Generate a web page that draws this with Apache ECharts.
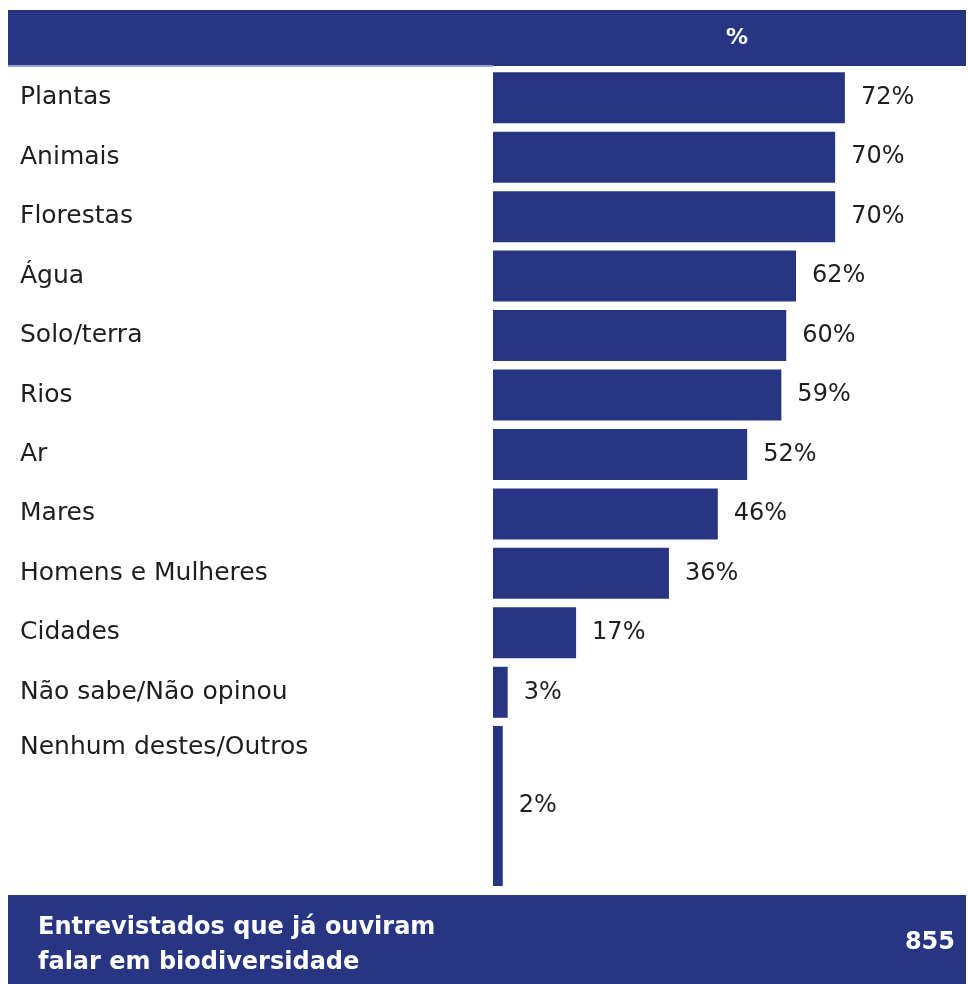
<!DOCTYPE html>
<html>
<head>
<meta charset="utf-8">
<script src="https://cdn.jsdelivr.net/npm/echarts@6/dist/echarts.min.js"></script>
<style>
  html, body { margin: 0; padding: 0; background: #ffffff; }
  #chart { width: 968px; height: 984px; }
</style>
</head>
<body>
<div id="chart"></div>
<script>
// Dados do gráfico
const categories = ['Plantas', 'Animais', 'Florestas', 'Água', 'Solo/terra', 'Rios', 'Ar',
    'Mares', 'Homens e Mulheres', 'Cidades', 'Não sabe/Não opinou'];
const values = [72, 70, 70, 62, 60, 59, 52, 46, 36, 17, 3];
const lastCategory = ['Nenhum destes/Outros'];
const lastValue = [2];
const headerLabel = '%';
const baseLabel = 'Entrevistados que já ouviram\nfalar em biodiversidade';
const baseValue = '855';

const navy = '#283583';
const textColor = '#1e1e1e';
const labelFont = 'DejaVu Sans';

const chart = echarts.init(document.getElementById('chart'));

// Rótulo de valor à direita das barras
const valueLabel = {
    show: true,
    position: 'right',
    distance: 16,
    formatter: '{c}%',
    fontFamily: labelFont,
    fontSize: 24,
    color: textColor
};

const option = {
    backgroundColor: '#ffffff',
    animation: false,
    grid: [
        { left: 493, width: 391, top: 68, height: 654 },
        { left: 493, width: 391, top: 722, height: 168 }
    ],
    xAxis: [
        { gridIndex: 0, type: 'value', min: 0, max: 80, show: false },
        { gridIndex: 1, type: 'value', min: 0, max: 80, show: false }
    ],
    yAxis: [
        {
            gridIndex: 0,
            type: 'category',
            inverse: true,
            data: categories,
            axisLine: { show: false },
            axisTick: { show: false },
            axisLabel: {
                align: 'left',
                margin: 473,
                fontFamily: labelFont,
                fontSize: 25,
                color: textColor
            }
        },
        {
            gridIndex: 1,
            type: 'category',
            data: lastCategory,
            axisLine: { show: false },
            axisTick: { show: false },
            axisLabel: {
                align: 'left',
                verticalAlign: 'bottom',
                lineHeight: 118,
                margin: 473,
                fontFamily: labelFont,
                fontSize: 25,
                color: textColor
            }
        }
    ],
    series: [
        {
            type: 'bar',
            xAxisIndex: 0,
            yAxisIndex: 0,
            data: values,
            barWidth: 51,
            itemStyle: { color: navy },
            label: valueLabel
        },
        {
            type: 'bar',
            xAxisIndex: 1,
            yAxisIndex: 1,
            data: lastValue,
            barWidth: 160,
            itemStyle: { color: navy },
            label: valueLabel
        }
    ],
    graphic: [
        // Cabeçalho
        { type: 'rect', shape: { x: 8, y: 10, width: 958, height: 56 }, style: { fill: navy } },
        { type: 'rect', shape: { x: 8, y: 65, width: 485, height: 2 }, style: { fill: '#9aa0d0' } },
        {
            type: 'text', x: 737, y: 38,
            style: {
                text: headerLabel, fill: '#ffffff', align: 'center', verticalAlign: 'middle',
                font: 'bold 22px "DejaVu Sans"'
            }
        },
        // Rodapé
        { type: 'rect', shape: { x: 8, y: 895, width: 958, height: 89 }, style: { fill: navy } },
        {
            type: 'text', x: 38, y: 945,
            style: {
                text: baseLabel, fill: '#ffffff', align: 'left', verticalAlign: 'middle',
                font: 'bold 24px "DejaVu Sans"', lineHeight: 35
            }
        },
        {
            type: 'text', x: 955, y: 943,
            style: {
                text: baseValue, fill: '#ffffff', align: 'right', verticalAlign: 'middle',
                font: 'bold 24px "DejaVu Sans"'
            }
        }
    ]
};

chart.setOption(option);

window.addEventListener('resize', function () {
    chart.resize();
});
</script>
</body>
</html>
